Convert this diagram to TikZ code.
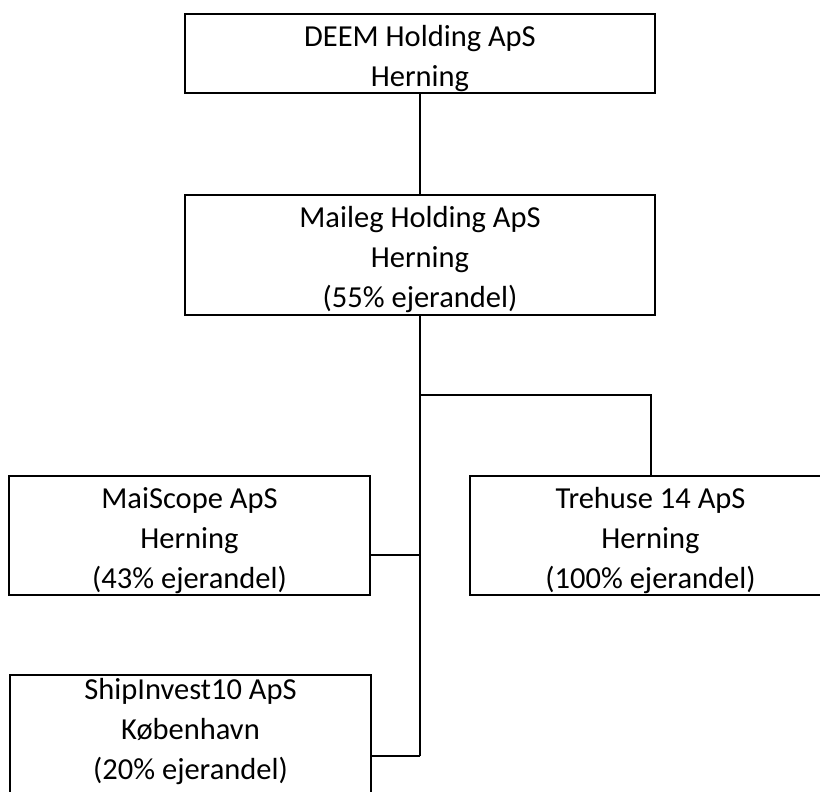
\documentclass[tikz,border=0pt]{standalone}
\usepackage{fontspec}
\setmainfont{Carlito}
\usetikzlibrary{positioning}
\newcommand{\upstrut}[1]{\rule{0pt}{#1pt}}
\newcommand{\downstrut}[1]{\rule[-#1pt]{0pt}{#1pt}}
\tikzset{company style/.style={
		draw=black,
		line width=2pt,
		rectangle,
		align=center,
		inner sep=0pt,
		font=\fontsize{30.5}{40}\selectfont,
	},
	wide style/.style={
		company style,
		minimum width=470pt,
		minimum height=79pt,
	},
	small style/.style={
		company style,
		minimum width=361pt,
		minimum height=119pt,
	},
	link style/.style={
		draw=black,
		line width=2pt,
	}
}

\begin{document}
\begin{tikzpicture}[x=1pt,y=-1pt,node distance=201.5pt]
	\useasboundingbox (0,0) rectangle (820,792);

	\node[wide style] (DEEM) at (420,53.5) {\upstrut{32.5}DEEM Holding ApS\\Herning\downstrut{5.5}};

	\node[wide style, minimum height=120pt, below of=DEEM] (Maileg) {\upstrut{31.5}Maileg Holding ApS\\Herning\\(55\% ejerandel)\downstrut{7.5}}
		edge[link style] (DEEM);

	\node[small style, node distance=280.5pt, below of=Maileg, xshift=-230.5pt] (MaiScope) {\upstrut{31.8}MaiScope ApS\\Herning\\(43\% ejerandel)\downstrut{6.8}};

	\node[small style, node distance=461pt, right of=MaiScope] (Trehuse) {\upstrut{31.8}Trehuse 14 ApS\\Herning\\(100\% ejerandel)\downstrut{6.8}};

	\node[small style, minimum height=120pt, node distance=199.5pt, below of=MaiScope, xshift=1pt] (ShipInvest) {\upstrut{23.8}ShipInvest10 ApS\\København\\(20\% ejerandel)\downstrut{15.8}};

	% stamme og forgreninger
	\coordinate (TreJoin) at (Maileg.south |- 0,395);
	\coordinate (ScopeJoin) at (Maileg.south |- 0,555);
	\coordinate (ShipJoin) at (Maileg.south |- 0,756);

	\draw[link style] (Maileg.south) -- (ShipJoin);
	\draw[link style] (TreJoin) -| (Trehuse.north);
	\draw[link style] (ScopeJoin) -- (ScopeJoin -| MaiScope.east);
	\draw[link style] (ShipJoin) -- (ShipJoin -| ShipInvest.east);
\end{tikzpicture}
\end{document}
